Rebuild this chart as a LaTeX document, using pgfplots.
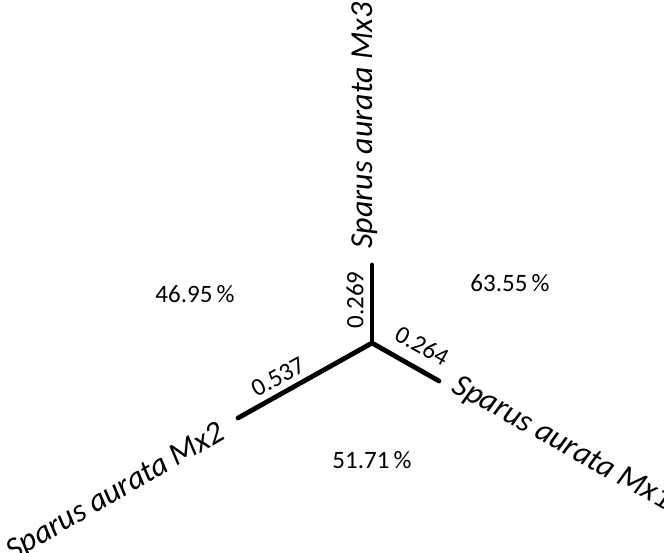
\documentclass[border=0pt]{standalone}
\usepackage{fontspec}
\setmainfont{Carlito}
\usepackage{pgfplots}
\pgfplotsset{compat=1.18}
\begin{document}
\begin{tikzpicture}
\begin{axis}[
  scale only axis, width=332bp, height=276.5bp,
  xmin=0, xmax=664, ymin=0, ymax=553, y dir=reverse,
  hide axis, clip=false, enlargelimits=false,
]
\coordinate (BL) at (rel axis cs:0,0);
\coordinate (TR) at (rel axis cs:1,1);
% branches
\addplot[black, line width=2.4bp, line cap=round] coordinates {(372,343) (372,265)};
\addplot[black, line width=2.4bp, line cap=round] coordinates {(372,343) (439,381)};
\addplot[black, line width=2.4bp, line cap=round] coordinates {(372,343) (238,418)};
% leaf labels
\node[rotate=90, anchor=west, inner sep=0pt, font=\fontsize{16bp}{19bp}\selectfont\itshape] at (axis cs:365,249) {Sparus aurata Mx3};
\node[rotate=-29, anchor=west, inner sep=0pt, font=\fontsize{16bp}{19bp}\selectfont\itshape] at (axis cs:454,384) {Sparus aurata Mx1};
\node[rotate=30, anchor=east, inner sep=0pt, font=\fontsize{16bp}{19bp}\selectfont\itshape] at (axis cs:223,431) {Sparus aurata Mx2};
% branch lengths
\node[rotate=90, inner sep=0pt, font=\fontsize{12.5bp}{15bp}\selectfont] at (axis cs:355,300) {0.269};
\node[rotate=-29, inner sep=0pt, font=\fontsize{12.5bp}{15bp}\selectfont] at (axis cs:422,346) {0.264};
\node[rotate=29, inner sep=0pt, font=\fontsize{12.5bp}{15bp}\selectfont] at (axis cs:278,377) {0.537};
% percentages
\node[inner sep=0pt, font=\fontsize{12.5bp}{15bp}\selectfont] at (axis cs:195,294) {46.95\,\%};
\node[inner sep=0pt, font=\fontsize{12.5bp}{15bp}\selectfont] at (axis cs:510,283) {63.55\,\%};
\node[inner sep=0pt, font=\fontsize{12.5bp}{15bp}\selectfont] at (axis cs:372,460) {51.71\,\%};
\end{axis}
\pgfresetboundingbox
\useasboundingbox (BL) rectangle (TR);
\end{tikzpicture}
\end{document}
